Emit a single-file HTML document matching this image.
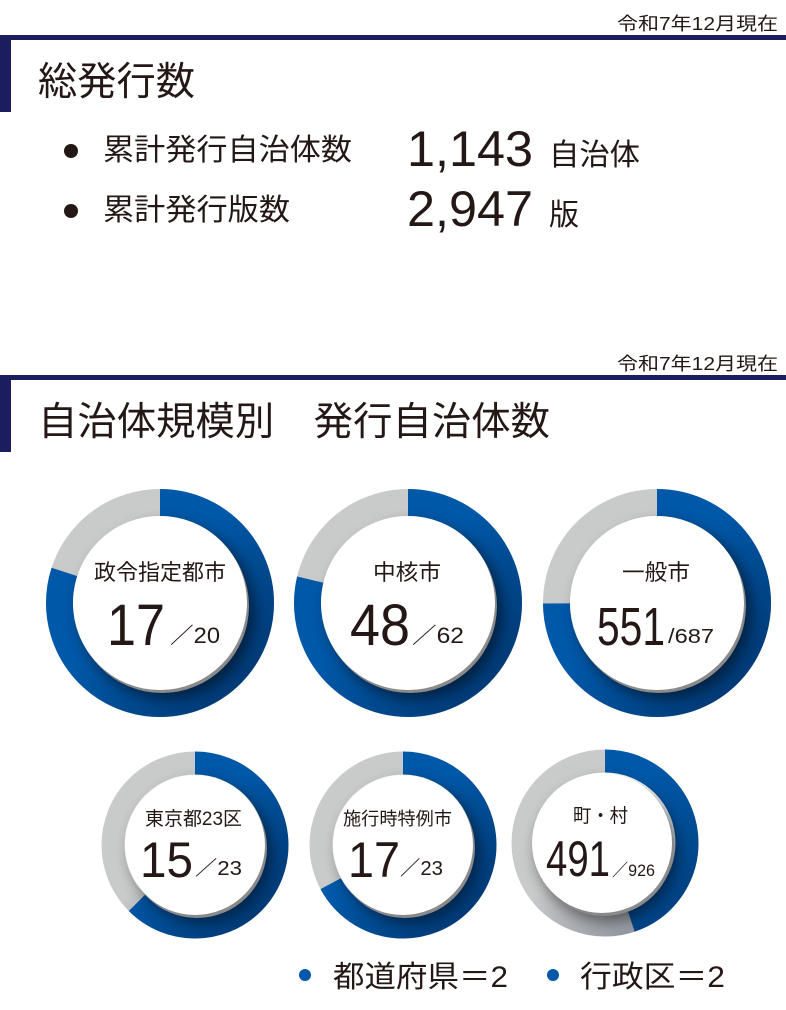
<!DOCTYPE html>
<html><head><meta charset="utf-8"><style>
body{margin:0;background:#fff;width:786px;height:1005px;overflow:hidden;font-family:"Liberation Sans","Noto Sans CJK JP",sans-serif;color:#231815}
</style></head><body>
<svg width="786" height="1005" viewBox="0 0 786 1005" xmlns="http://www.w3.org/2000/svg" font-family="Liberation Sans, Noto Sans CJK JP, sans-serif" fill="#231815">
<defs>
<filter id="bl" x="-30%" y="-30%" width="160%" height="160%"><feGaussianBlur stdDeviation="7"/></filter>
<linearGradient id="dk" x1="0" y1="0" x2="1" y2="1">
<stop offset="0.45" stop-color="#001030" stop-opacity="0"/>
<stop offset="0.85" stop-color="#001030" stop-opacity="0.5"/>
<stop offset="1" stop-color="#001030" stop-opacity="0.2"/>
</linearGradient>
</defs>
<text x="617" y="30" font-size="18" textLength="161" lengthAdjust="spacingAndGlyphs">令和7年12月現在</text>
<rect x="0" y="35" width="786" height="5" fill="#1b1d5e"/>
<rect x="0" y="35" width="11" height="77" fill="#1b1d5e"/>
<text x="38" y="95" font-size="39" textLength="157" lengthAdjust="spacingAndGlyphs">総発行数</text>
<circle cx="71" cy="151" r="7"/>
<circle cx="71" cy="211" r="7"/>
<text x="103" y="160" font-size="30" textLength="249" lengthAdjust="spacingAndGlyphs">累計発行自治体数</text>
<text x="103" y="220" font-size="30" textLength="187" lengthAdjust="spacingAndGlyphs">累計発行版数</text>
<text x="407" y="166" font-size="50" textLength="126" lengthAdjust="spacingAndGlyphs">1,143</text>
<text x="549" y="165" font-size="30" textLength="91" lengthAdjust="spacingAndGlyphs">自治体</text>
<text x="407" y="226" font-size="50" textLength="126" lengthAdjust="spacingAndGlyphs">2,947</text>
<text x="549" y="225" font-size="30">版</text>
<text x="617" y="370" font-size="18" textLength="161" lengthAdjust="spacingAndGlyphs">令和7年12月現在</text>
<rect x="0" y="375" width="786" height="5" fill="#1b1d5e"/>
<rect x="0" y="375" width="11" height="77" fill="#1b1d5e"/>
<text x="38" y="435" font-size="39" textLength="512" lengthAdjust="spacingAndGlyphs">自治体規模別　発行自治体数</text>

<g>
<circle cx="160" cy="603" r="100.5" fill="none" stroke="#c9caca" stroke-width="27"/>
<circle cx="160" cy="603" r="100.5" fill="none" stroke="#0058a8" stroke-width="27" stroke-dasharray="505 1000" transform="rotate(-90 160 603)"/>
<circle cx="160" cy="603" r="114" fill="url(#dk)" opacity="0.8"/>
<circle cx="167" cy="611" r="88" fill="#000" opacity="0.5" filter="url(#bl)"/>
<circle cx="162" cy="606" r="87" fill="#8a8a8a"/>
<circle cx="160" cy="603" r="87" fill="#fff"/>
<text x="94" y="580" font-size="22" textLength="132" lengthAdjust="spacingAndGlyphs">政令指定都市</text>
<text x="107" y="645" font-size="58" textLength="58" lengthAdjust="spacingAndGlyphs">17</text>
<text x="170" y="643" font-size="22" textLength="50" lengthAdjust="spacingAndGlyphs">／20</text>
</g>
<g>
<circle cx="408" cy="603" r="100.5" fill="none" stroke="#c9caca" stroke-width="27"/>
<circle cx="408" cy="603" r="100.5" fill="none" stroke="#0058a8" stroke-width="27" stroke-dasharray="497 1000" transform="rotate(-90 408 603)"/>
<circle cx="408" cy="603" r="114" fill="url(#dk)" opacity="0.8"/>
<circle cx="415" cy="611" r="88" fill="#000" opacity="0.5" filter="url(#bl)"/>
<circle cx="410" cy="606" r="87" fill="#8a8a8a"/>
<circle cx="408" cy="603" r="87" fill="#fff"/>
<text x="373" y="580" font-size="22" textLength="68" lengthAdjust="spacingAndGlyphs">中核市</text>
<text x="350" y="645" font-size="58" textLength="60" lengthAdjust="spacingAndGlyphs">48</text>
<text x="412" y="643" font-size="22" textLength="52" lengthAdjust="spacingAndGlyphs">／62</text>
</g>
<g>
<circle cx="657" cy="603" r="100.5" fill="none" stroke="#c9caca" stroke-width="27"/>
<circle cx="657" cy="603" r="100.5" fill="none" stroke="#0058a8" stroke-width="27" stroke-dasharray="473 1000" transform="rotate(-90 657 603)"/>
<circle cx="657" cy="603" r="114" fill="url(#dk)" opacity="0.8"/>
<circle cx="664" cy="611" r="88" fill="#000" opacity="0.5" filter="url(#bl)"/>
<circle cx="659" cy="606" r="87" fill="#8a8a8a"/>
<circle cx="657" cy="603" r="87" fill="#fff"/>
<text x="622" y="580" font-size="22" textLength="68" lengthAdjust="spacingAndGlyphs">一般市</text>
<text x="597" y="645" font-size="54" textLength="68" lengthAdjust="spacingAndGlyphs">551</text>
<text x="668" y="643" font-size="20" textLength="46" lengthAdjust="spacingAndGlyphs">/687</text>
</g>
<g>
<circle cx="195" cy="845" r="82" fill="none" stroke="#c9caca" stroke-width="23"/>
<circle cx="195" cy="845" r="82" fill="none" stroke="#0058a8" stroke-width="23" stroke-dasharray="322 1000" transform="rotate(-90 195 845)"/>
<circle cx="195" cy="845" r="93.5" fill="url(#dk)" opacity="0.8"/>
<circle cx="201" cy="852" r="71" fill="#000" opacity="0.45" filter="url(#bl)"/>
<circle cx="197" cy="848" r="70" fill="#8a8a8a"/>
<circle cx="195" cy="845" r="70" fill="#fff"/>
<text x="145" y="825" font-size="19" textLength="97" lengthAdjust="spacingAndGlyphs">東京都23区</text>
<text x="140" y="877" font-size="50" textLength="53" lengthAdjust="spacingAndGlyphs">15</text>
<text x="195" y="875" font-size="20" textLength="47" lengthAdjust="spacingAndGlyphs">／23</text>
</g>
<g>
<circle cx="403" cy="845" r="82" fill="none" stroke="#c9caca" stroke-width="23"/>
<circle cx="403" cy="845" r="82" fill="none" stroke="#0058a8" stroke-width="23" stroke-dasharray="346 1000" transform="rotate(-90 403 845)"/>
<circle cx="403" cy="845" r="93.5" fill="url(#dk)" opacity="0.8"/>
<circle cx="409" cy="852" r="71" fill="#000" opacity="0.45" filter="url(#bl)"/>
<circle cx="405" cy="848" r="70" fill="#8a8a8a"/>
<circle cx="403" cy="845" r="70" fill="#fff"/>
<text x="343" y="825" font-size="18" textLength="109" lengthAdjust="spacingAndGlyphs">施行時特例市</text>
<text x="348" y="877" font-size="50" textLength="52" lengthAdjust="spacingAndGlyphs">17</text>
<text x="400" y="875" font-size="20" textLength="43" lengthAdjust="spacingAndGlyphs">／23</text>
</g>
<g>
<circle cx="605" cy="843" r="82" fill="none" stroke="#c9caca" stroke-width="23"/>
<circle cx="605" cy="843" r="82" fill="none" stroke="#0058a8" stroke-width="23" stroke-dasharray="231 1000" transform="rotate(-90 605 843)"/>
<circle cx="605" cy="843" r="93.5" fill="url(#dk)" opacity="0.6"/>
<circle cx="607" cy="851" r="71" fill="#000" opacity="0.45" filter="url(#bl)"/>
<circle cx="604" cy="846" r="70" fill="#8a8a8a"/>
<circle cx="602" cy="843" r="70" fill="#fff"/>
<text x="573" y="822" font-size="19" textLength="55" lengthAdjust="spacingAndGlyphs">町・村</text>
<text x="546" y="876" font-size="50" textLength="64" lengthAdjust="spacingAndGlyphs">491</text>
<text x="612" y="876" font-size="17" textLength="43" lengthAdjust="spacingAndGlyphs">／926</text>
</g>
<circle cx="305" cy="975" r="6" fill="#0058a8"/>
<text x="333" y="987" font-size="30" textLength="175" lengthAdjust="spacingAndGlyphs">都道府県＝2</text>
<circle cx="553" cy="975" r="6" fill="#0058a8"/>
<text x="580" y="987" font-size="30" textLength="145" lengthAdjust="spacingAndGlyphs">行政区＝2</text>
</svg>
</body></html>
